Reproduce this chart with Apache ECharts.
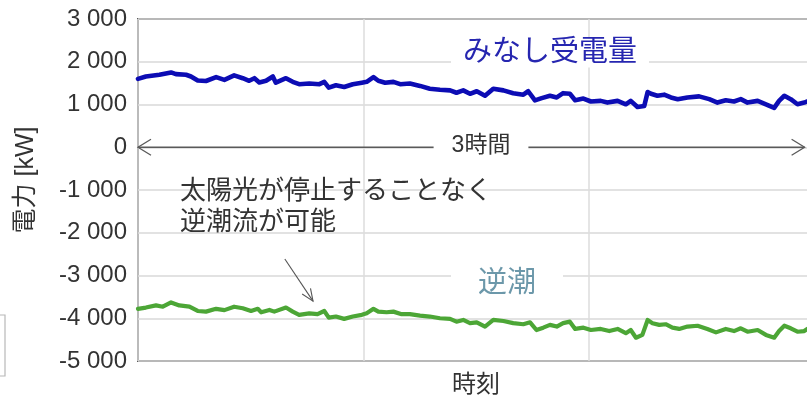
<!DOCTYPE html>
<html>
<head>
<meta charset="utf-8">
<script src="https://cdn.jsdelivr.net/npm/echarts@6/dist/echarts.min.js"></script>
<style>
  html, body { margin: 0; padding: 0; background: #ffffff; }
  #chart { width: 807px; height: 398px; }
</style>
</head>
<body>
<div id="chart"></div>
<script>
// y axis ticks (kW) and x grid positions (minutes)
const yTickValues = [-5000, -4000, -3000, -2000, -1000, 0, 1000, 2000, 3000];
const xGridMinutes = [0, 60, 120, 180];

// みなし受電量 (kW) sampled over time (minutes)
const receivedMinutes = [
  0, 2.1, 5.7, 8.8, 10.1, 12.8, 14.1, 15.9, 18.1, 20.8, 23.0, 25.6, 27.9, 29.6, 31.0,
  32.3, 34.1, 35.9, 36.7, 39.4, 41.2, 42.9, 45.6, 48.3, 49.6, 50.8, 52.7, 54.9, 57.2, 59.6,
  60.9, 62.7, 64.0, 65.8, 68.0, 69.8, 72.4, 75.1, 77.7, 80.4, 83.1, 84.8, 86.6, 88.4, 90.2,
  92.4, 94.6, 97.3, 99.9, 102.6, 103.9, 105.7, 107.5, 109.7, 111.5, 113.2, 115.0, 116.4, 118.6,
  120.6, 123.2, 125.0, 127.7, 129.9, 131.2, 133.0, 134.8, 135.7, 136.6, 138.3, 140.1, 141.9,
  143.7, 146.3, 149.4, 152.1, 154.3, 156.5, 158.7, 160.5, 162.3, 165.0, 167.2, 169.4, 170.7,
  172.1, 173.8, 175.6, 177.4, 178.2
];
const receivedKw = [
  1600, 1655, 1695, 1750, 1710, 1695, 1655, 1560, 1550, 1640, 1575, 1680, 1615, 1555, 1615,
  1515, 1555, 1655, 1510, 1615, 1530, 1475, 1490, 1475, 1530, 1395, 1450, 1410, 1475, 1510,
  1530, 1640, 1555, 1510, 1530, 1475, 1490, 1435, 1370, 1345, 1330, 1275, 1330, 1250, 1310,
  1205, 1370, 1330, 1265, 1230, 1310, 1095, 1150, 1205, 1165, 1265, 1250, 1100, 1140,
  1070, 1085, 1045, 1085, 1005, 1085, 940, 965, 1290, 1250, 1205, 1230, 1165,
  1125, 1165, 1190, 1125, 1045, 1100, 1070, 1125, 1045, 1085, 1005, 920, 1085,
  1205, 1125, 1005, 1045, 1070
];

// 逆潮 (kW) sampled over time (minutes)
const reverseMinutes = [
  0, 2.1, 4.8, 6.6, 8.8, 11.0, 13.7, 15.9, 18.1, 20.8, 23.0, 25.6, 27.9, 30.1, 31.9,
  32.8, 35.0, 36.3, 39.4, 41.2, 42.9, 45.6, 47.8, 49.6, 50.8, 52.7, 54.9, 57.2, 59.6,
  60.9, 62.7, 64.0, 66.2, 68.0, 70.2, 72.4, 75.1, 77.7, 80.4, 83.1, 84.8, 86.6, 88.4, 90.2,
  92.4, 94.6, 97.3, 99.9, 102.6, 104.4, 106.1, 107.9, 109.7, 111.5, 113.2, 115.0, 116.4, 118.6,
  120.6, 123.2, 125.5, 127.7, 129.9, 131.2, 132.6, 134.3, 135.7, 137.0, 138.8, 140.5, 142.3,
  144.1, 146.3, 149.0, 151.6, 153.9, 156.5, 158.7, 160.5, 162.3, 165.0, 167.2, 169.4, 170.7,
  172.1, 173.8, 175.6, 177.4, 178.2
];
const reverseKw = [
  -3780, -3750, -3700, -3730, -3630, -3700, -3730, -3830, -3845, -3780, -3810, -3730, -3765, -3830, -3780,
  -3860, -3805, -3845, -3750, -3845, -3920, -3885, -3905, -3830, -3985, -3960, -4015, -3960, -3920,
  -3885, -3780, -3845, -3860, -3845, -3905, -3905, -3940, -3960, -4000, -4015, -4080, -4040, -4115, -4095,
  -4195, -4040, -4065, -4115, -4140, -4095, -4275, -4220, -4155, -4195, -4115, -4080, -4250, -4220,
  -4275, -4250, -4300, -4250, -4350, -4275, -4455, -4390, -4040, -4115, -4155, -4140, -4220,
  -4250, -4195, -4175, -4250, -4330, -4250, -4300, -4235, -4315, -4275, -4390, -4455, -4300,
  -4175, -4235, -4315, -4300, -4250
];

// span arrow along 0 kW and the note arrow (data coordinates: [minutes, kW])
const spanArrow = { from: [0, 0], to: [177.5, 0] };
const noteArrow = { from: [39.1, -2615], to: [46.6, -3600] };

const pairs = (xs, ys) => xs.map((x, i) => [x, ys[i]]);
const fmtKw = v => {
  const s = String(Math.abs(v)).replace(/\B(?=(\d{3})+(?!\d))/g, ' ');
  return (v < 0 ? '-' : '') + s;
};

const FONT = "'Liberation Sans', Arial, 'Noto Sans CJK JP', sans-serif";
const chart = echarts.init(document.getElementById('chart'), null, { renderer: 'canvas' });

chart.setOption({
  animation: false,
  backgroundColor: '#ffffff',
  grid: {
    left: 138, top: 19, width: 676, height: 342,
    show: true, borderColor: '#5a5a5a', borderWidth: 2, backgroundColor: 'transparent',
    containLabel: false, outerBoundsMode: 'none'
  },
  xAxis: {
    type: 'value',
    min: xGridMinutes[0], max: xGridMinutes[xGridMinutes.length - 1],
    interval: xGridMinutes[1] - xGridMinutes[0],
    name: '時刻', nameLocation: 'middle', nameGap: 12,
    nameTextStyle: { fontFamily: FONT, fontSize: 24, color: '#333', verticalAlign: 'top' },
    axisLine: { show: false, onZero: false },
    axisTick: { show: false },
    axisLabel: { show: false },
    splitLine: { show: true, lineStyle: { color: '#dcdcdc', width: 1.5 } }
  },
  yAxis: {
    type: 'value',
    min: yTickValues[0], max: yTickValues[yTickValues.length - 1],
    interval: yTickValues[1] - yTickValues[0],
    name: '電力 [kW]', nameLocation: 'middle', nameRotate: 90, nameGap: 99,
    nameTextStyle: { fontFamily: FONT, fontSize: 25, color: '#333', padding: [0, 0, 0, 20] },
    axisLine: { show: false },
    axisTick: { show: false },
    axisLabel: { margin: 11, fontFamily: FONT, fontSize: 24, color: '#333', formatter: fmtKw },
    splitLine: { show: true, lineStyle: { color: '#d8d8d8', width: 1.5 } }
  },
  series: [
    {
      name: 'みなし受電量', type: 'line', data: pairs(receivedMinutes, receivedKw),
      showSymbol: false, smooth: false, z: 3,
      lineStyle: { color: '#0c0cb4', width: 4.6, join: 'round', cap: 'round' }
    },
    {
      name: '逆潮', type: 'line', data: pairs(reverseMinutes, reverseKw),
      showSymbol: false, smooth: false, z: 3,
      lineStyle: { color: '#4ca636', width: 4.2, join: 'round', cap: 'round' }
    }
  ]
});

// annotations: arrows and labels
function chevron(tip, dir, len, half) {
  const n = Math.hypot(dir[0], dir[1]);
  const ux = dir[0] / n, uy = dir[1] / n;
  const bx = tip[0] - ux * len, by = tip[1] - uy * len;
  return [[bx - uy * half, by + ux * half], tip, [bx + uy * half, by - ux * half]];
}
const p = c => chart.convertToPixel({ gridIndex: 0 }, c);
const s0 = p(spanArrow.from), s1 = p(spanArrow.to);
const n0 = p(noteArrow.from), n1 = p(noteArrow.to);
const lineStyle = { stroke: '#5a5a5a', lineWidth: 1.3, fill: null };

const textEl = (x, y, text, size, color, pad) => ({
  type: 'text', x, y, z: 100,
  style: {
    text, fontFamily: FONT, fontSize: size, fill: color,
    align: 'center', verticalAlign: 'middle', textAlign: 'center', textVerticalAlign: 'middle',
    backgroundColor: pad ? '#ffffff' : null, padding: pad || 0
  }
});

chart.setOption({
  graphic: [
    { type: 'polyline', z: 90, shape: { points: [s0, s1] }, style: lineStyle },
    { type: 'polyline', z: 90, shape: { points: chevron(s0, [s0[0] - s1[0], 0], 13, 8) }, style: lineStyle },
    { type: 'polyline', z: 90, shape: { points: chevron(s1, [s1[0] - s0[0], 0], 13, 8) }, style: lineStyle },
    { type: 'polyline', z: 90, shape: { points: [n0, n1] }, style: { stroke: '#555', lineWidth: 1.1, fill: null } },
    { type: 'polyline', z: 90, shape: { points: chevron(n1, [n1[0] - n0[0], n1[1] - n0[1]], 12, 5) }, style: { stroke: '#555', lineWidth: 1.1, fill: null } },
    textEl(481, 146, '3時間', 23, '#333', [0, 18]),
    textEl(550, 53, 'みなし受電量', 29, '#2626b0', [0, 12]),
    textEl(507, 284, '逆潮', 29, '#6c98aa', [0, 27]),
    {
      type: 'text', x: 180, y: 207, z: 100,
      style: {
        text: '太陽光が停止することなく\n逆潮流が可能', fontFamily: FONT, fontSize: 26, fill: '#333',
        align: 'left', verticalAlign: 'middle', textAlign: 'left', textVerticalAlign: 'middle', lineHeight: 31
      }
    },
    // edge of the neighbouring legend box
    { type: 'rect', z: 100, shape: { x: -20, y: 315, width: 25, height: 61 }, style: { stroke: '#b8b8b8', lineWidth: 1.2, fill: null } }
  ]
});
</script>
</body>
</html>
